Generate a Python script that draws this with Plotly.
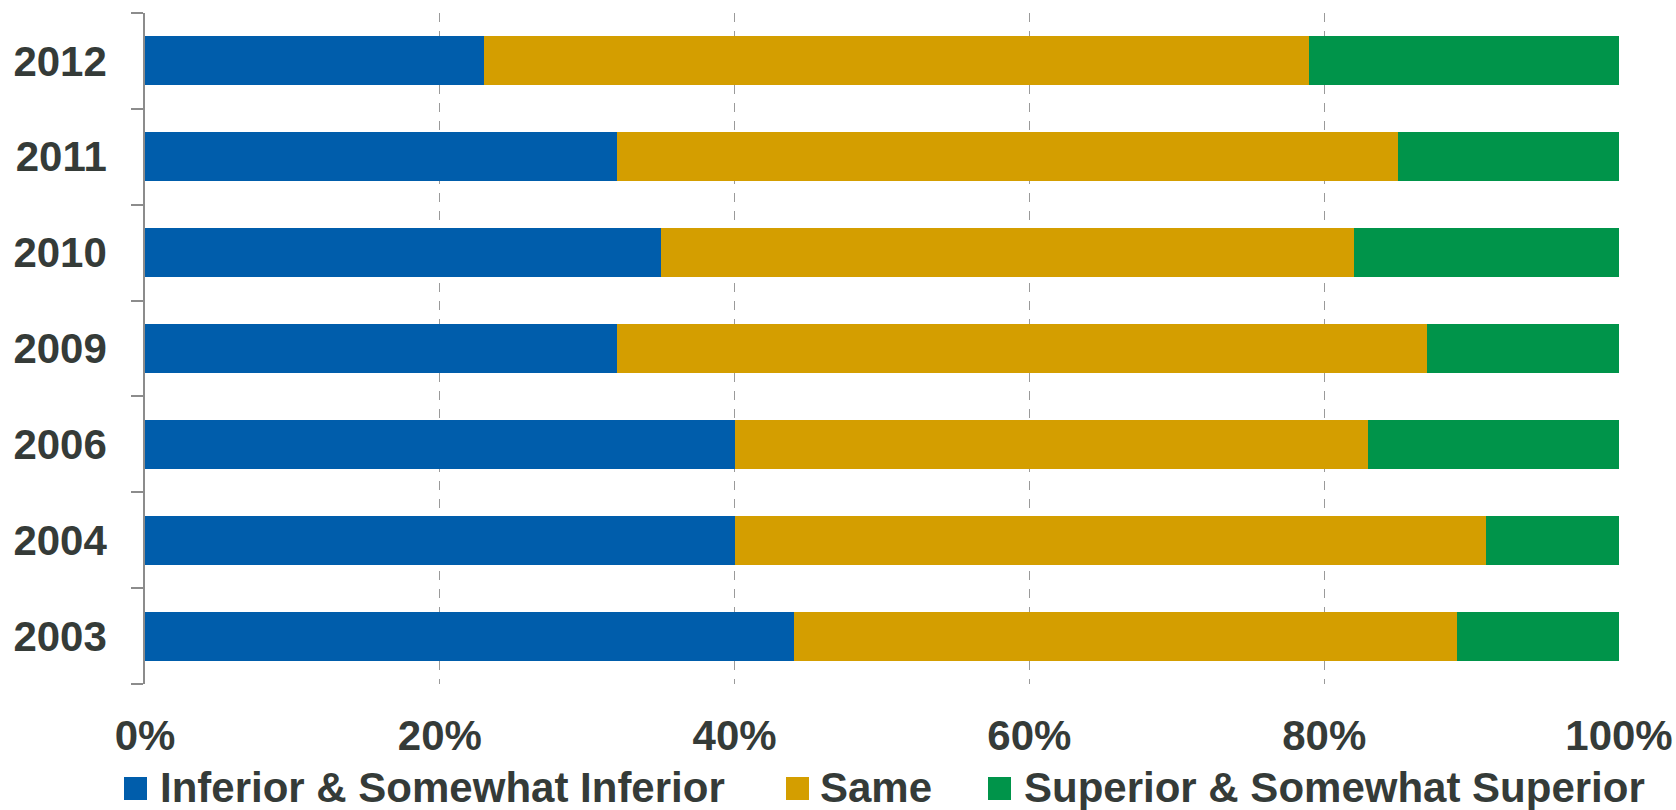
import plotly.graph_objects as go

years = ["2003", "2004", "2006", "2009", "2010", "2011", "2012"]
inferior = [44, 40, 40, 32, 35, 32, 23]
same = [45, 51, 43, 55, 47, 53, 56]
superior = [11, 9, 17, 13, 18, 15, 21]
x_ticks = [0, 20, 40, 60, 80, 100]
x_tick_labels = ["0%", "20%", "40%", "60%", "80%", "100%"]

series_names = ["Inferior & Somewhat Inferior", "Same", "Superior & Somewhat Superior"]
series_values = [inferior, same, superior]
series_colors = ["#005DAB", "#D49E00", "#00944A"]

TEXT = "#353B38"
FONT = "Liberation Sans, Arial, sans-serif"

W, H = 1676, 810
ML, MT = 145, 13
MR = W - 1619
MB = H - 684
PW, PH = W - ML - MR, H - MT - MB


def px_x(p):
    return (p - ML) / PW


def px_y(p):
    return (H - MB - p) / PH


fig = go.Figure()
for name, vals, col in zip(series_names, series_values, series_colors):
    fig.add_trace(go.Bar(
        y=years, x=vals, name=name, orientation="h", showlegend=False,
        marker=dict(color=col, line=dict(width=0)),
    ))

# legend drawn as swatches + labels (positions in window pixels)
legend_swatch_left = [124, 786, 988]
legend_text_left = [158, 818, 1022]
shapes = []
annotations = []
for name, col, sx, tx in zip(series_names, series_colors, legend_swatch_left, legend_text_left):
    shapes.append(dict(
        type="rect", xref="paper", yref="paper",
        x0=px_x(sx), x1=px_x(sx + 23), y0=px_y(800), y1=px_y(777),
        fillcolor=col, line=dict(width=0),
    ))
    annotations.append(dict(
        xref="paper", yref="paper", x=px_x(tx), y=px_y(787),
        xanchor="left", yanchor="middle", text=name, showarrow=False,
        font=dict(family=FONT, size=42, color=TEXT, weight="bold"),
    ))

fig.update_layout(
    width=W, height=H,
    barmode="stack", bargap=0.49,
    plot_bgcolor="white", paper_bgcolor="white",
    margin=dict(l=ML, r=MR, t=MT, b=MB, autoexpand=False),
    font=dict(family=FONT, size=42, color=TEXT, weight="bold"),
    showlegend=False,
    shapes=shapes,
    annotations=annotations,
    xaxis=dict(
        range=[0, 100], tickvals=x_ticks, ticktext=x_tick_labels,
        showgrid=True, gridcolor="#9A9A9A", gridwidth=1.3, griddash="dash",
        showline=False, zeroline=False, ticks="", ticklabelstandoff=23,
        ticklabeloverflow="allow",
        tickfont=dict(family=FONT, size=42, color=TEXT, weight="bold"),
    ),
    yaxis=dict(
        type="category", categoryorder="array", categoryarray=years,
        showline=True, linecolor="#8C8C8C", linewidth=1.5,
        ticks="outside", tickson="boundaries", ticklen=12, tickcolor="#8C8C8C", tickwidth=1.5,
        showgrid=False, ticklabelstandoff=28,
        tickfont=dict(family=FONT, size=42, color=TEXT, weight="bold"),
    ),
)

# remove the default 8px page margin so the figure fills the window exactly
fig.write_html(
    "out.html",
    config={"displayModeBar": False},
    post_script="document.body.style.margin='0';",
)
